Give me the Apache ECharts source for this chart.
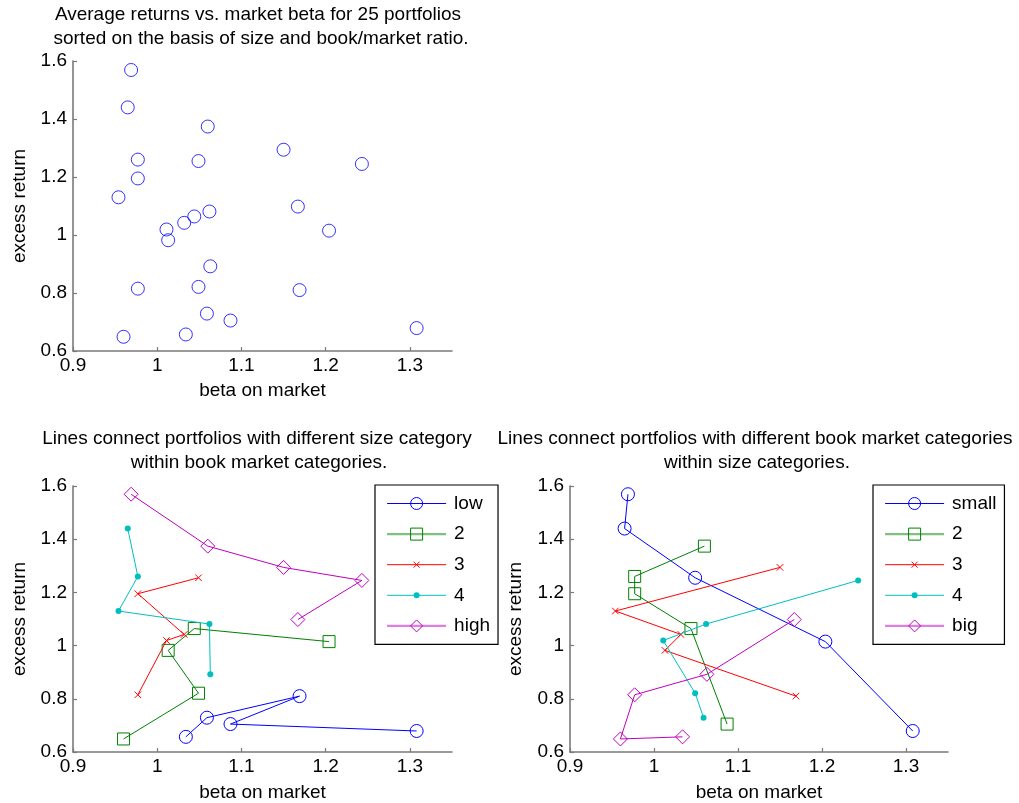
<!DOCTYPE html>
<html>
<head>
<meta charset="utf-8">
<script src="https://cdn.jsdelivr.net/npm/echarts@6/dist/echarts.min.js"></script>
<style>
  html, body { margin: 0; padding: 0; background: #ffffff; }
  #chart { width: 1019px; height: 803px; }
</style>
</head>
<body>
<div id="chart"></div>
<script>
// 25 portfolios: one array per size quintile, entries ordered by book/market (low .. high)
const sizeNames = ['small', '2', '3', '4', 'big'];
const bmNames = ['low', '2', '3', '4', 'high'];

const betaSmall = [1.308, 1.204, 1.049, 0.965, 0.969];
const retSmall  = [0.679, 1.015, 1.255, 1.440, 1.569];
const betaSize2 = [1.087, 1.044, 0.977, 0.977, 1.060];
const retSize2  = [0.705, 1.064, 1.195, 1.260, 1.374];
const betaSize3 = [1.169, 1.013, 1.032, 0.954, 1.150];
const retSize3  = [0.810, 0.982, 1.042, 1.130, 1.294];
const betaSize4 = [1.059, 1.049, 1.011, 1.062, 1.243];
const retSize4  = [0.729, 0.821, 1.019, 1.081, 1.245];
const betaBig   = [1.034, 0.960, 0.977, 1.063, 1.167];
const retBig    = [0.657, 0.649, 0.815, 0.892, 1.098];

const xTicks = [0.9, 1.0, 1.1, 1.2, 1.3];
const yTicks = [0.6, 0.8, 1.0, 1.2, 1.4, 1.6];

const betaRows = [betaSmall, betaSize2, betaSize3, betaSize4, betaBig];
const retRows = [retSmall, retSize2, retSize3, retSize4, retBig];

const FONT = '"Liberation Sans", Arial, Helvetica, sans-serif';
const FS = 19;
const AXIS_GRAY = '#7a7a7a';

// line/marker styles in plotting order: circle, square, x-mark, dot, diamond
const colors = ['#0000ff', '#008000', '#ff0000', '#00bfbf', '#bf00bf'];
const markers = [
  { symbol: 'circle', size: 13, filled: false },
  { symbol: 'rect', size: 12, filled: false },
  { symbol: 'path://M-5,-5M15,15M0,0L10,10M10,0L0,10', size: 13, filled: false },
  { symbol: 'path://M-2,-2M12,12M5,1.5A3.5,3.5,0,1,1,5,8.5A3.5,3.5,0,1,1,5,1.5Z', size: 12, filled: true },
  { symbol: 'diamond', size: 14, filled: false }
];
// legend sample lines (two entries render a little heavier and lighter)
const legendLines = [
  { color: '#0000ff', width: 1 },
  { color: '#7fbf7f', width: 2.2 },
  { color: '#ff0000', width: 1 },
  { color: '#00bfbf', width: 1 },
  { color: '#df7fdf', width: 2.2 }
];

const grids = [
  { left: 73, top: 61, width: 379, height: 290 },
  { left: 73, top: 486, width: 379, height: 266 },
  { left: 570, top: 486, width: 378, height: 266 }
];

function xAxisFor(i, nameGap) {
  return {
    type: 'value', gridIndex: i, min: 0.9, max: 1.35,
    name: 'beta on market', nameLocation: 'middle', nameGap: nameGap,
    nameTextStyle: { color: '#000', fontSize: FS, fontFamily: FONT },
    axisLine: { show: true, onZero: false, lineStyle: { color: AXIS_GRAY, width: 1.6 } },
    axisTick: { show: true, inside: true, length: 4, customValues: xTicks, lineStyle: { color: AXIS_GRAY, width: 1.2 } },
    axisLabel: { show: true, customValues: xTicks, color: '#000', fontSize: FS, fontFamily: FONT, margin: 5 },
    splitLine: { show: false }
  };
}
function yAxisFor(i, nameGap) {
  return {
    type: 'value', gridIndex: i, min: 0.6, max: 1.6,
    name: 'excess return', nameLocation: 'middle', nameGap: nameGap, nameRotate: 90,
    nameTextStyle: { color: '#000', fontSize: FS, fontFamily: FONT },
    axisLine: { show: true, onZero: false, lineStyle: { color: AXIS_GRAY, width: 1.6 } },
    axisTick: { show: true, inside: true, length: 4, customValues: yTicks, lineStyle: { color: AXIS_GRAY, width: 1.2 } },
    axisLabel: { show: true, customValues: yTicks, color: '#000', fontSize: FS, fontFamily: FONT, margin: 6 },
    splitLine: { show: false }
  };
}

function markerStyle(k) {
  return markers[k].filled
    ? { color: colors[k], borderWidth: 0 }
    : { color: 'rgba(0,0,0,0)', borderColor: colors[k], borderWidth: 1 };
}

function lineSeries(name, k, axisIdx, data) {
  const m = markers[k];
  return {
    type: 'line', name: name, xAxisIndex: axisIdx, yAxisIndex: axisIdx,
    data: data, symbol: m.symbol, symbolSize: m.size, showSymbol: true, showAllSymbol: true,
    color: colors[k],
    lineStyle: { color: colors[k], width: 1 },
    itemStyle: markerStyle(k),
    emphasis: { disabled: true },
    animation: false, z: 2 + k
  };
}

const series = [];

// all 25 portfolios as plain markers
const allPoints = [];
betaRows.forEach((row, s) => row.forEach((b, j) => allPoints.push([b, retRows[s][j]])));
series.push({
  type: 'scatter', name: 'portfolios', xAxisIndex: 0, yAxisIndex: 0,
  data: allPoints, symbol: 'circle', symbolSize: 13,
  itemStyle: { color: 'rgba(0,0,0,0)', borderColor: '#0000ff', borderWidth: 1 },
  emphasis: { disabled: true }, animation: false
});

// one line per book/market category, running across size categories
bmNames.forEach((bm, j) => {
  const data = betaRows.map((row, s) => [row[j], retRows[s][j]]);
  series.push(lineSeries('bm|' + bm, j, 1, data));
});

// one line per size category, running across book/market categories
sizeNames.forEach((sz, s) => {
  const data = betaRows[s].map((b, j) => [b, retRows[s][j]]);
  series.push(lineSeries('size|' + sz, s, 2, data));
});

function legendFor(prefix, names, left) {
  return {
    show: true, orient: 'vertical', left: left, top: 485,
    data: names.map((n, k) => ({
      name: prefix + n,
      itemStyle: { borderWidth: markers[k].filled ? 0 : 1 },
      lineStyle: legendLines[k]
    })),
    formatter: (name) => name.split('|')[1],
    itemWidth: 59, itemHeight: 15, itemGap: 11.6,
    padding: [9, 8, 9, 11],
    borderColor: '#000', borderWidth: 1.2, backgroundColor: '#fff',
    selectedMode: false,
    textStyle: { color: '#000', fontSize: FS, fontFamily: FONT, padding: [0, 0, 0, 3] }
  };
}

function titleText(x, y, text) {
  return {
    type: 'text', x: x, y: y, silent: true,
    style: {
      text: text, fill: '#000', font: FS + 'px ' + FONT,
      textAlign: 'center', align: 'center', textVerticalAlign: 'middle', verticalAlign: 'middle'
    }
  };
}

const option = {
  backgroundColor: '#ffffff',
  animation: false,
  grid: grids.map(g => Object.assign({ outerBoundsMode: 'none', containLabel: false }, g)),
  xAxis: [xAxisFor(0, 30), xAxisFor(1, 31), xAxisFor(2, 31)],
  yAxis: [yAxisFor(0, 44), yAxisFor(1, 44), yAxisFor(2, 45)],
  legend: [legendFor('bm|', bmNames, 375), legendFor('size|', sizeNames, 873)],
  graphic: [
    titleText(258, 15, 'Average returns vs. market beta for 25 portfolios'),
    titleText(261, 39, 'sorted on the basis of size and book/market ratio.'),
    titleText(257, 439, 'Lines connect portfolios with different size category'),
    titleText(259, 463, 'within book market categories.'),
    titleText(755, 439, 'Lines connect portfolios with different book market categories'),
    titleText(757, 463, 'within size categories.')
  ],
  series: series
};

const chart = echarts.init(document.getElementById('chart'), null, { renderer: 'canvas' });
chart.setOption(option);
</script>
</body>
</html>
